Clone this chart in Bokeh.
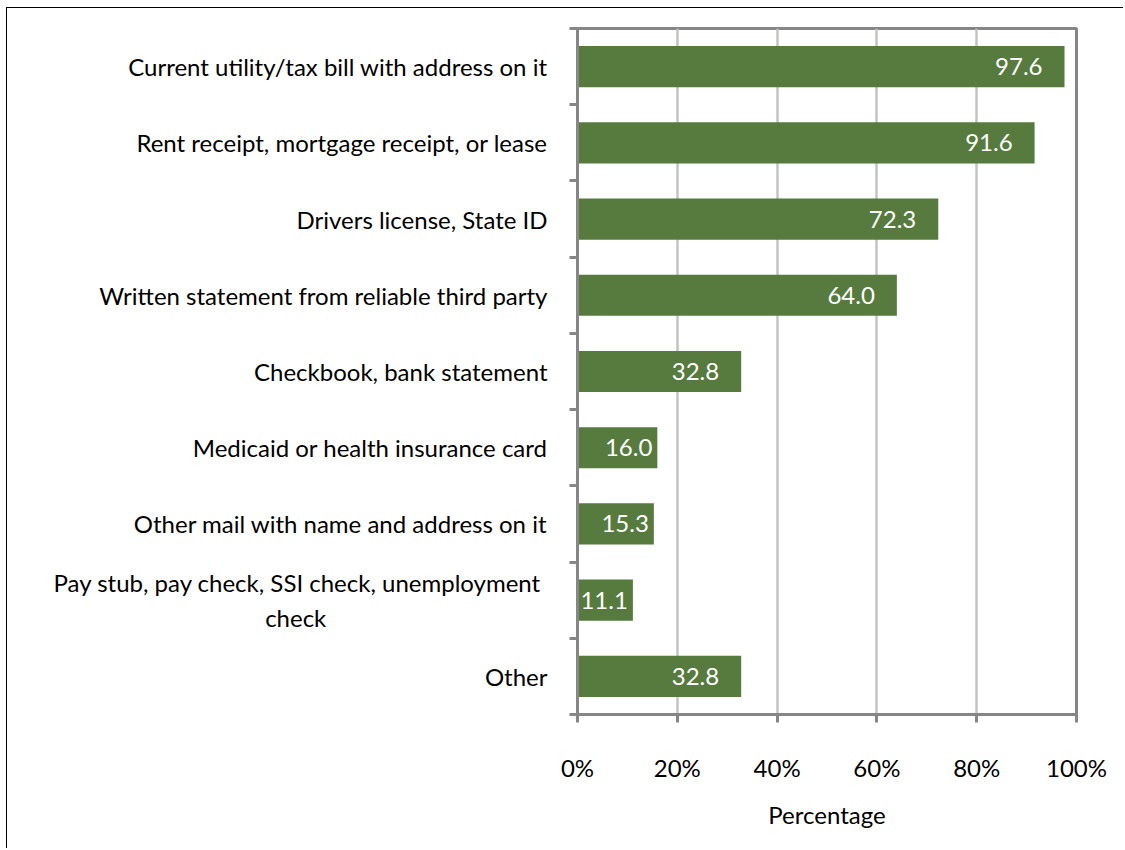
from bokeh.plotting import figure
from bokeh.models import ColumnDataSource, Range1d, FixedTicker, LabelSet, PrintfTickFormatter
from bokeh.core.properties import value
from bokeh.embed import file_html
from bokeh.resources import INLINE

NBSP = "\u00a0"
categories = [
    "Current utility/tax bill with address on it",
    "Rent receipt, mortgage receipt, or lease",
    "Drivers license, State ID",
    "Written statement from reliable third party",
    "Checkbook, bank statement",
    "Medicaid or health insurance card",
    "Other mail with name and address on it",
    "Pay stub, pay check, SSI check, unemployment" + NBSP + "\ncheck" + NBSP * 36,
    "Other",
]
values = [97.6, 91.6, 72.3, 64.0, 32.8, 16.0, 15.3, 11.1, 32.8]
x_ticks = [0, 20, 40, 60, 80, 100]
x_title = "Percentage"

FONT = "Lato"
FS = "24px"
BAR = "#577b3e"
AXIS = "#868686"
GRID = "#c3c3c3"

idx = list(range(len(categories)))
src = ColumnDataSource(dict(
    y=idx, v=values,
    lab=[f"{v:.1f}" for v in values],
    off=[-22 if v >= 20 else -5 for v in values],
))

p = figure(width=1117, height=841, output_backend="svg", toolbar_location=None,
           x_range=Range1d(0, 100), y_range=Range1d(len(categories) - 0.5, -0.5),
           min_border_left=570, min_border_right=48, min_border_top=20, min_border_bottom=135,
           styles={"margin-left": "6px", "margin-top": "7px",
                   "border-left": "1.5px solid black", "border-top": "1.5px solid black"})
p.background_fill_color = "white"
p.border_fill_color = "white"
p.outline_line_color = AXIS
p.outline_line_width = 3

p.hbar(y="y", right="v", left=0, height=0.54, source=src, fill_color=BAR, line_color=None)
p.add_layout(LabelSet(x="v", y="y", text="lab", source=src, x_offset="off", text_align="right",
                      text_baseline="middle", text_color="white", text_font_size=value(FS),
                      text_font=value(FONT)))

# x axis
xa = p.xaxis[0]
xa.ticker = FixedTicker(ticks=x_ticks)
xa.formatter = PrintfTickFormatter(format="%d%%")
xa.axis_line_color = AXIS
xa.axis_line_width = 3
xa.major_tick_line_color = AXIS
xa.major_tick_line_width = 3
xa.major_tick_out = 8
xa.major_tick_in = 0
xa.minor_tick_line_color = None
xa.major_label_standoff = 30
xa.major_label_text_font = FONT
xa.major_label_text_font_size = FS
xa.major_label_text_color = "black"
xa.axis_label = x_title
xa.axis_label_text_font = FONT
xa.axis_label_text_font_size = FS
xa.axis_label_text_font_style = "normal"
xa.axis_label_text_color = "black"
xa.axis_label_standoff = 15

# y axis
ya = p.yaxis[0]
ya.ticker = FixedTicker(ticks=idx, minor_ticks=[i - 0.5 for i in range(len(categories) + 1)])
ya.major_label_overrides = {i: c for i, c in enumerate(categories)}
ya.axis_line_color = AXIS
ya.axis_line_width = 3
ya.major_tick_line_color = None
ya.major_tick_out = 0
ya.major_tick_in = 0
ya.minor_tick_line_color = AXIS
ya.minor_tick_line_width = 3
ya.minor_tick_out = 8
ya.minor_tick_in = 0
ya.major_label_standoff = 22
ya.major_label_text_font = FONT
ya.major_label_text_font_size = FS
ya.major_label_text_color = "black"

p.xgrid.grid_line_color = GRID
p.xgrid.grid_line_width = 2.5
p.ygrid.grid_line_color = None

open("out.html", "w").write(file_html(p, INLINE))
